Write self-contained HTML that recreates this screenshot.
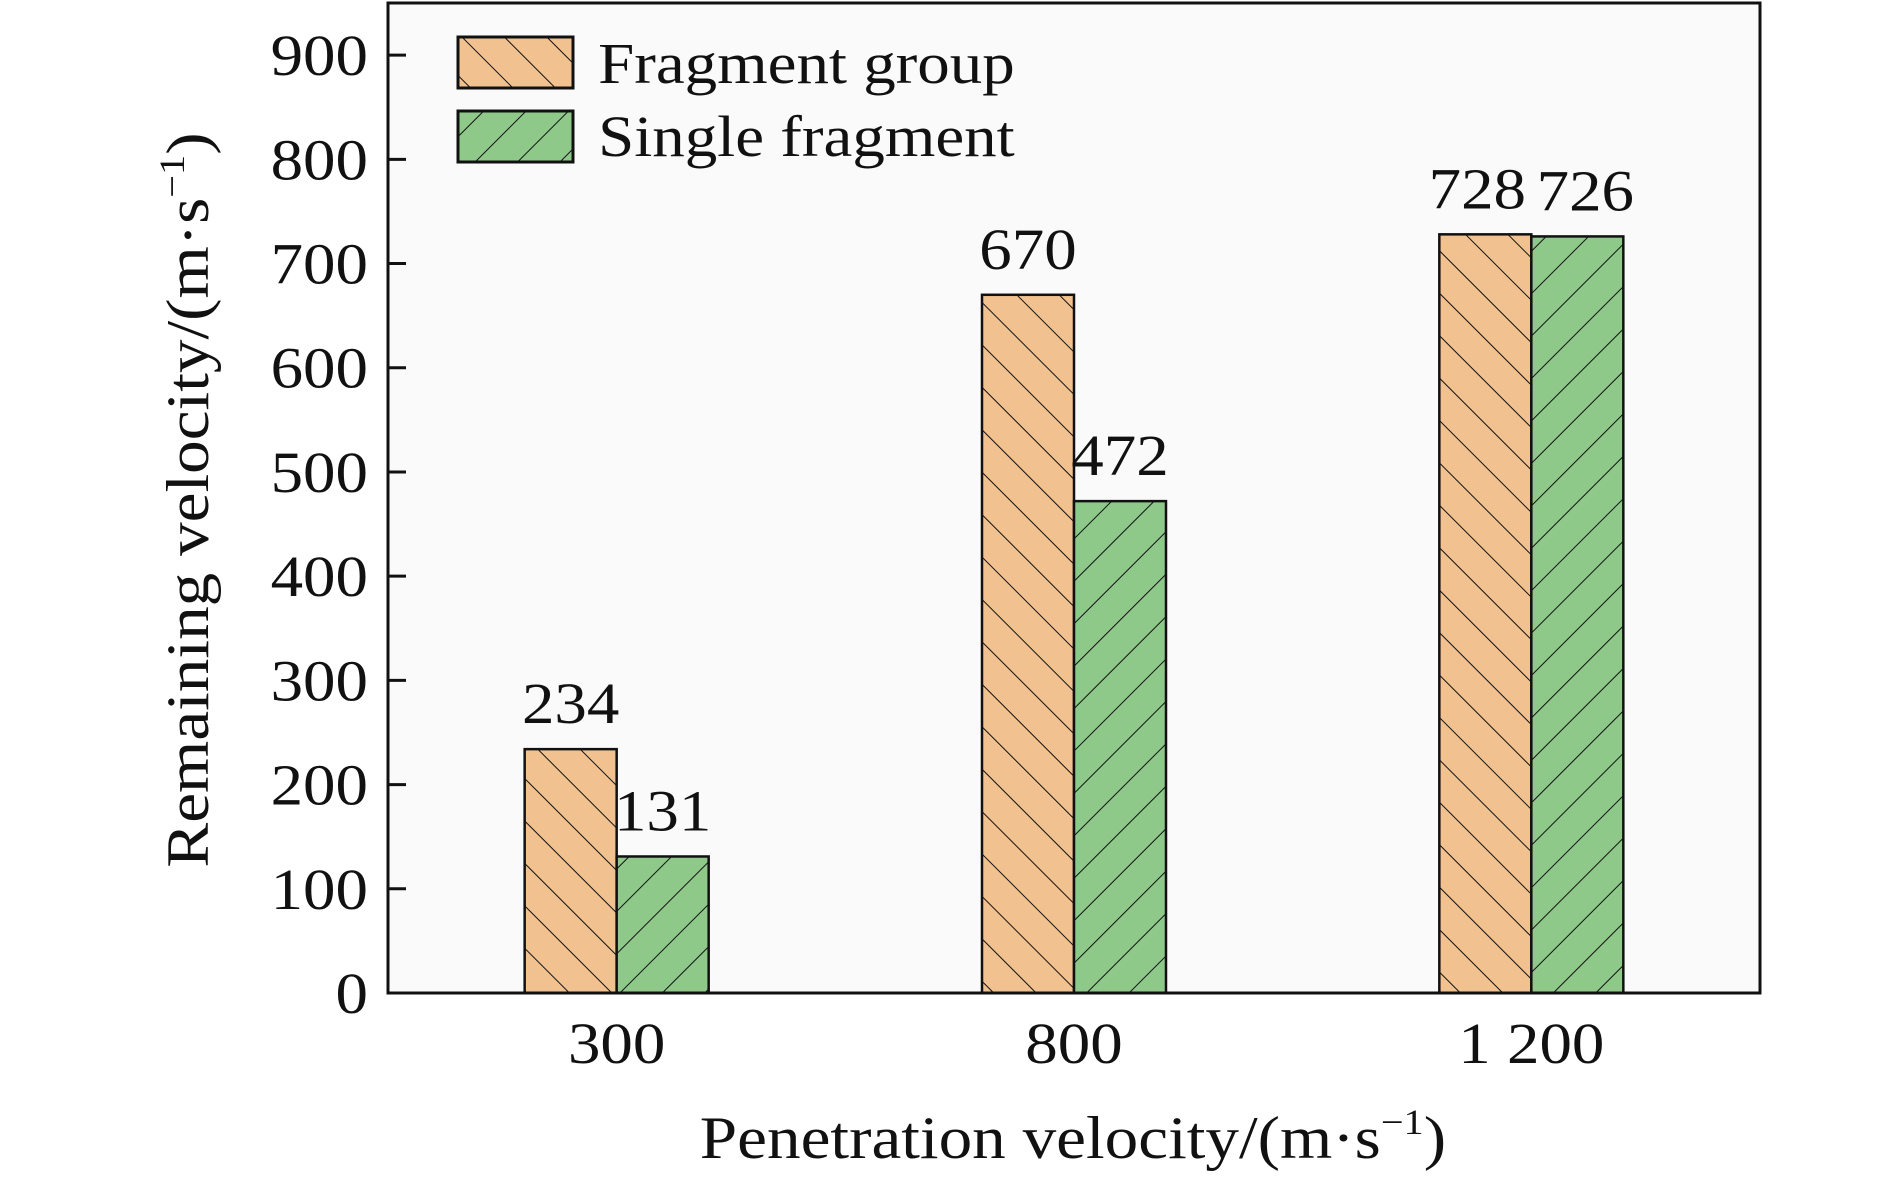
<!DOCTYPE html>
<html><head><meta charset="utf-8"><style>
body{margin:0;background:#fff;}
svg{display:block;font-family:"Liberation Serif",serif;}
</style></head><body>
<svg id="chart" width="1890" height="1179" viewBox="0 0 1890 1179" xmlns="http://www.w3.org/2000/svg">
<defs>
<pattern id="hatchA" patternUnits="userSpaceOnUse" width="30" height="30" patternTransform="rotate(-45)">
<rect width="30" height="30" fill="#f1c290"/><line x1="0" y1="0" x2="0" y2="30" stroke="#111" stroke-width="2"/></pattern>
<pattern id="hatchB" patternUnits="userSpaceOnUse" width="30" height="30" patternTransform="rotate(45)">
<rect width="30" height="30" fill="#8ec98a"/><line x1="0" y1="0" x2="0" y2="30" stroke="#111" stroke-width="2"/></pattern>
</defs>
<rect x="388" y="3" width="1372" height="990" fill="#fafafa"/>
<g id="bars"></g>
<g id="axes"></g>
<rect x="388" y="3" width="1372" height="990" fill="none" stroke="#111" stroke-width="3"/>
<g>
<rect x="458" y="37" width="115" height="51" fill="url(#hatchA)" stroke="#111" stroke-width="3"/>
<text x="534" y="83" transform="scale(1.12,1)" font-size="58" fill="#111">Fragment group</text>
<rect x="458" y="111" width="115" height="51" fill="url(#hatchB)" stroke="#111" stroke-width="3"/>
<text x="534" y="156" transform="scale(1.12,1)" font-size="58" fill="#111">Single fragment</text>
</g>
<text x="958" y="1158" transform="scale(1.12,1)" font-size="60" text-anchor="middle" fill="#111">Penetration velocity/(m·s<tspan dy="-24" font-size="36">−1</tspan><tspan dy="24">)</tspan></text>
<text transform="translate(208,500) rotate(-90) scale(1.12,1)" font-size="60" text-anchor="middle" fill="#111">Remaining velocity/(m·s<tspan dy="-24" font-size="36">−1</tspan><tspan dy="24">)</tspan></text>
</svg>
<script>
const categories = ["300", "800", "1 200"];
const groupValues = [234, 670, 728];
const singleValues = [131, 472, 726];
const yTicks = [0, 100, 200, 300, 400, 500, 600, 700, 800, 900];

const NS = "http://www.w3.org/2000/svg";
const plotLeft = 388, plotRight = 1760, plotTop = 3, plotBottom = 993, yMax = 950;
const SX = 1.12;
const band = (plotRight - plotLeft) / categories.length;
const barW = 92;
function xc(i){ return plotLeft + band * (i + 0.5); }
function yScale(v){ return plotBottom - (v / yMax) * (plotBottom - plotTop); }
function mk(tag, attrs, parent){ const e = document.createElementNS(NS, tag); for (const k in attrs) e.setAttribute(k, attrs[k]); parent.appendChild(e); return e; }
const bars = document.getElementById('bars');
const axes = document.getElementById('axes');
categories.forEach((c, i) => {
  const series = [[groupValues[i], 'url(#hatchA)', -1, 'fragment-group', -8], [singleValues[i], 'url(#hatchB)', 0, 'single-fragment', 8]];
  series.forEach(s => {
    const x = xc(i) + s[2] * barW;
    const r = mk('rect', {x: x, y: yScale(s[0]), width: barW, height: plotBottom - yScale(s[0]), fill: s[1], stroke: '#111', 'stroke-width': 2.5}, bars);
    
    
    const off = (i === 2) ? s[4] : 0;
    const t = mk('text', {x: (x + barW / 2 + off) / SX, y: yScale(s[0]) - 26, transform: 'scale(' + SX + ',1)', 'font-size': 58, 'text-anchor': 'middle', fill: '#111'}, bars);
    t.textContent = s[0];
    
    
  });
  const xl = mk('text', {x: xc(i) / SX, y: 1063, transform: 'scale(' + SX + ',1)', 'font-size': 58, 'text-anchor': 'middle', fill: '#111'}, axes);
  xl.textContent = c;
  
  
});
yTicks.forEach(v => {
  const l = mk('line', {x1: plotLeft, x2: plotLeft + 18, y1: yScale(v), y2: yScale(v), stroke: '#111', 'stroke-width': 3}, axes);
  
  
  const t = mk('text', {x: 368 / SX, y: yScale(v) + 20, transform: 'scale(' + SX + ',1)', 'font-size': 58, 'text-anchor': 'end', fill: '#111'}, axes);
  t.textContent = v;
  
  
});
</script>
</body></html>
